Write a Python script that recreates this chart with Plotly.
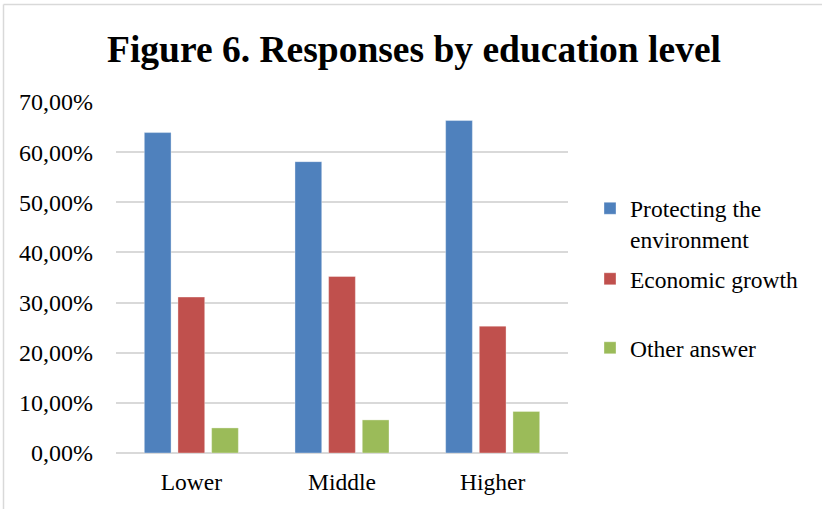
import plotly.graph_objects as go

# Survey responses by education level (shares of respondents)
categories = ["Lower", "Middle", "Higher"]
protecting_env = [0.639, 0.581, 0.663]
economic_growth = [0.311, 0.352, 0.253]
other_answer = [0.050, 0.066, 0.083]
tick_values = [0.0, 0.1, 0.2, 0.3, 0.4, 0.5, 0.6, 0.7]

W, H = 822, 509
ML, MR, MT, MB = 116, 254, 102, 56
PW, PH = W - ML - MR, H - MT - MB

FONT = "Liberation Serif, Times New Roman, serif"
GRID = "#D9D9D9"


def px_x(x):
    return (x - ML) / PW


def px_y(y):
    return (H - MB - y) / PH


edge = dict(color="rgba(255,255,255,0.35)", width=1)

fig = go.Figure()
fig.add_trace(go.Bar(x=categories, y=protecting_env, name="Protecting the<br>environment",
                     marker=dict(color="#4F81BD", line=edge), legend="legend"))
fig.add_trace(go.Bar(x=categories, y=economic_growth, name="Economic growth",
                     marker=dict(color="#C0504D", line=edge), legend="legend2"))
fig.add_trace(go.Bar(x=categories, y=other_answer, name="Other answer",
                     marker=dict(color="#9BBB59", line=edge), legend="legend3"))

legend_common = dict(font=dict(family=FONT, size=23.5, color="#000000"),
                     xref="paper", yref="paper", xanchor="left", yanchor="middle",
                     bgcolor="rgba(0,0,0,0)", borderwidth=0, valign="top")

fig.update_layout(
    width=W, height=H,
    margin=dict(l=ML, r=MR, t=MT, b=MB),
    paper_bgcolor="white", plot_bgcolor="white",
    separators=",.",
    showlegend=True,
    barmode="group", bargap=0.33, bargroupgap=0.205,
    title=dict(text="<b>Figure 6. Responses by education level</b>",
               font=dict(family=FONT, size=37.5, color="#000000"),
               x=414 / W, xref="container", xanchor="center",
               y=1 - 49 / H, yref="container", yanchor="middle"),
    xaxis=dict(showgrid=False, showline=False, ticks="",
               tickfont=dict(family=FONT, size=23.5, color="#000000"),
               ticklabelstandoff=12),
    yaxis=dict(range=[0, 0.70], tickvals=tick_values, tickformat=".2%",
               showgrid=True, gridcolor=GRID, gridwidth=1.5,
               zeroline=True, zerolinecolor=GRID, zerolinewidth=1.5,
               showline=False, ticks="",
               tickfont=dict(family=FONT, size=24, color="#000000"),
               ticklabelstandoff=22),
    legend=dict(x=px_x(590), y=px_y(224), **legend_common),
    legend2=dict(x=px_x(590), y=px_y(279), **legend_common),
    legend3=dict(x=px_x(590), y=px_y(348), **legend_common),
    shapes=[
        dict(type="line", xref="paper", yref="paper",
             x0=px_x(3.5), x1=px_x(W + 5), y0=px_y(4.5), y1=px_y(4.5),
             line=dict(color=GRID, width=1.5)),
        dict(type="line", xref="paper", yref="paper",
             x0=px_x(3.5), x1=px_x(3.5), y0=px_y(4.5), y1=px_y(H + 5),
             line=dict(color=GRID, width=1.5)),
    ],
)

fig.write_html("out.html")
